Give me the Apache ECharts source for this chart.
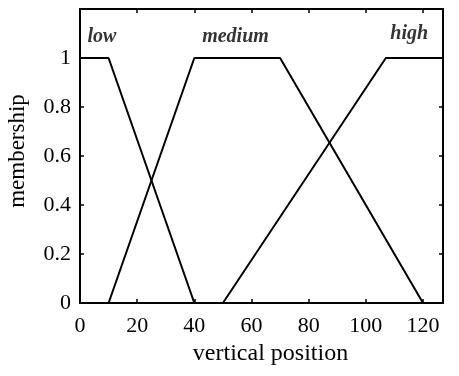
<!DOCTYPE html>
<html>
<head>
<meta charset="utf-8">
<script src="https://cdn.jsdelivr.net/npm/echarts@6/dist/echarts.min.js"></script>
<style>
html,body{margin:0;padding:0;background:#fff;}
#chart{width:459px;height:376px;}
</style>
</head>
<body>
<div id="chart"></div>
<script>
// Data
const lowPts = [[0, 1], [10, 1], [40, 0]];
const mediumPts = [[10, 0], [40, 1], [70, 1], [120, 0]];
const highPts = [[50, 0], [107, 1], [127, 1]];
const setNames = ['low', 'medium', 'high'];
const setLabelX = [7.7, 54.4, 115.2];
const setLabelY = [1.085, 1.085, 1.1];
const xTitle = 'vertical position';
const yTitle = 'membership';
const xMin = 0, xMax = 127, xStep = 20;
const yMin = 0, yMax = 1.2, yStep = 0.2;

const FONT = '"Liberation Serif", "DejaVu Serif", serif';
const chart = echarts.init(document.getElementById('chart'), null, {renderer: 'canvas'});

const axisLineStyle = {color: '#000', width: 2};
const tickStyle = {color: '#000', width: 1.5};

const labelData = setNames.map((n, i) => ({name: n, value: [setLabelX[i], setLabelY[i]]}));

function lineSeries(name, pts) {
  return {
    name: name, type: 'line', data: pts, symbol: 'none',
    lineStyle: {color: '#000', width: 2}, animation: false,
    xAxisIndex: 0, yAxisIndex: 0
  };
}

chart.setOption({
  animation: false,
  backgroundColor: '#fff',
  grid: {left: 80, right: 16, top: 9, bottom: 73, containLabel: false, outerBoundsMode: 'none'},
  xAxis: [
    {
      type: 'value', position: 'bottom', min: xMin, max: xMax, interval: xStep,
      axisLine: {show: true, onZero: false, lineStyle: axisLineStyle},
      axisTick: {show: true, inside: true, length: 4, lineStyle: tickStyle},
      axisLabel: {show: true, color: '#000', fontFamily: FONT, fontSize: 22, margin: 12, showMaxLabel: false},
      splitLine: {show: false},
      name: xTitle, nameLocation: 'middle', nameGap: 33,
      nameTextStyle: {color: '#000', fontFamily: FONT, fontSize: 24, padding: [0, 0, 0, 18]}
    },
    {
      type: 'value', position: 'top', min: xMin, max: xMax, interval: xStep,
      axisLine: {show: true, onZero: false, lineStyle: axisLineStyle},
      axisTick: {show: true, inside: true, length: 4, lineStyle: tickStyle},
      axisLabel: {show: false}, splitLine: {show: false}
    }
  ],
  yAxis: [
    {
      type: 'value', position: 'left', min: yMin, max: yMax, interval: yStep,
      axisLine: {show: true, onZero: false, lineStyle: axisLineStyle},
      axisTick: {show: true, inside: true, length: 4, lineStyle: tickStyle},
      axisLabel: {show: true, color: '#000', fontFamily: FONT, fontSize: 22, margin: 9, showMaxLabel: false,
        formatter: v => String(Math.round(v * 10) / 10)},
      splitLine: {show: false},
      name: yTitle, nameLocation: 'middle', nameGap: 51,
      nameTextStyle: {color: '#000', fontFamily: FONT, fontSize: 23, padding: [0, 0, 0, 10]}
    },
    {
      type: 'value', position: 'right', min: yMin, max: yMax, interval: yStep,
      axisLine: {show: true, onZero: false, lineStyle: axisLineStyle},
      axisTick: {show: true, inside: true, length: 4, lineStyle: tickStyle},
      axisLabel: {show: false}, splitLine: {show: false}
    }
  ],
  series: [
    lineSeries('low', lowPts),
    lineSeries('medium', mediumPts),
    lineSeries('high', highPts),
    {
      name: 'set labels', type: 'scatter', data: labelData, symbol: 'circle', symbolSize: 1,
      itemStyle: {color: 'rgba(0,0,0,0)'},
      label: {
        show: true, position: 'inside', formatter: p => p.name,
        color: '#000', textBorderWidth: 0, textBorderColor: 'transparent',
        fontFamily: FONT, fontSize: 20, fontStyle: 'italic', fontWeight: 'bold'
      },
      labelLayout: {hideOverlap: false},
      xAxisIndex: 0, yAxisIndex: 0, silent: true
    }
  ]
});
</script>
</body>
</html>
